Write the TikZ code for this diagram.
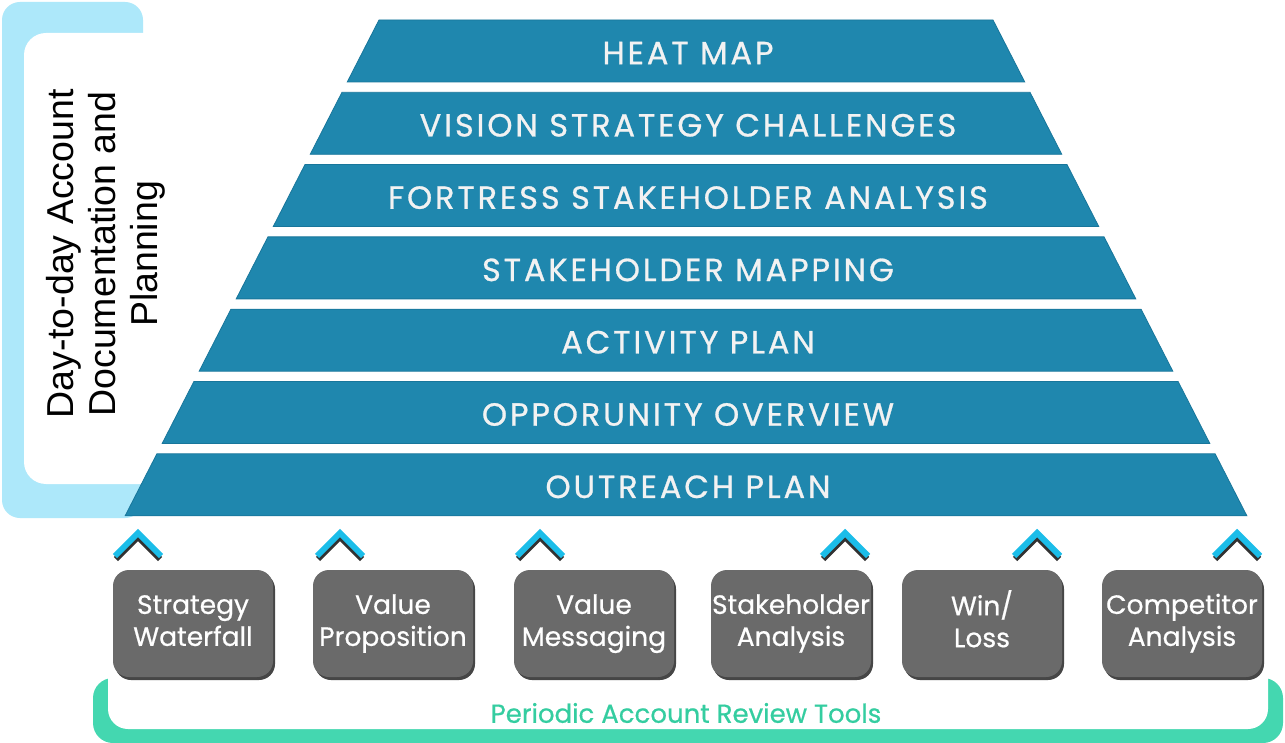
\documentclass[tikz,border=0pt]{standalone}
\usepackage{fontspec}
\setmainfont{Poppins}
\newfontfamily\arialf{Liberation Sans}
\newfontfamily\bandf[LetterSpace=9,FakeBold=0.8]{Poppins}
\newfontfamily\boxf[FakeBold=0.6]{Poppins}
\usetikzlibrary{shadows}
\definecolor{bandblue}{RGB}{31,135,174}
\definecolor{bandedge}{RGB}{24,118,155}
\definecolor{lightbr}{RGB}{173,232,250}
\definecolor{chevcyan}{RGB}{27,189,233}
\definecolor{boxgray}{RGB}{106,106,106}
\definecolor{boxshadow}{RGB}{50,50,50}
\definecolor{greenc}{RGB}{68,215,176}
\definecolor{greentxt}{RGB}{52,205,160}
\definecolor{bandtxt}{RGB}{242,242,242}
\tikzset{
  bandfill/.style={fill=bandblue, draw=bandedge, line width=0.8pt},
  bandtext/.style={text=bandtxt, font=\bandf\fontsize{32}{36}\selectfont, inner sep=0pt},
  graybox/.style={fill=boxgray, rounded corners=16pt, minimum width=160pt, minimum height=107pt,
    text=white, align=center, font=\boxf\fontsize{26.5}{32}\selectfont, inner sep=0pt,
    drop shadow={shadow xshift=2pt, shadow yshift=-3pt, opacity=0.9, fill=boxshadow}},
  chevline/.style={draw=chevcyan, line width=6pt},
  chevshade/.style={draw=boxshadow, line width=6pt},
  daytext/.style={text=black, align=center, font=\arialf\fontsize{37.5}{42}\selectfont, inner sep=0pt},
  greentext/.style={text=greentxt, font=\boxf\fontsize{26}{30}\selectfont, inner sep=0pt}
}
\begin{document}
\begin{tikzpicture}[x=1pt,y=-1pt]
\useasboundingbox (0,0) rectangle (1285,743);
\fill[white] (0,0) rectangle (1285,743);

% left bracket
\fill[lightbr, rounded corners=18pt] (2,2) rectangle (143,518);
\fill[white, rounded corners=22pt] (24,33) rectangle (320,484);
\node[daytext, rotate=90] (daylabel) at (106,254) {Day-to-day Account\\Documentation and\\Planning};

% pyramid
\foreach \i/\t in {0/HEAT MAP,1/VISION STRATEGY CHALLENGES,2/FORTRESS STAKEHOLDER ANALYSIS,3/STAKEHOLDER MAPPING,4/ACTIVITY PLAN,5/OPPORUNITY OVERVIEW,6/OUTREACH PLAN}{
  \pgfmathsetmacro{\yt}{20+72.3*\i}
  \pgfmathsetmacro{\yb}{\yt+62}
  \pgfmathsetmacro{\xlt}{379-(\yt-20)*0.512}
  \pgfmathsetmacro{\xlb}{379-(\yb-20)*0.512}
  \fill[bandfill] (\xlt,\yt) -- ({1372-\xlt},\yt) -- ({1372-\xlb},\yb) -- (\xlb,\yb) -- cycle;
  \node[bandtext] (band\i) at (688,\yt+33) {\t};
}

% green bracket
\fill[greenc, rounded corners=20pt] (93,678) rectangle (1283,743);
\fill[white, rounded corners=20pt] (108,640) rectangle (1268,729);
\node[greentext] (tools) at (686,713) {Periodic Account Review Tools};

% chevrons
\foreach \cx in {138,340,540,845,1037,1237}{
  \draw[chevshade] (\cx-22,559) -- (\cx,537) -- (\cx+22,559);
  \draw[chevline] (\cx-23,556) -- (\cx,533) -- (\cx+23,556);
}

% tool boxes
\node[graybox] (t1) at (193,623.5) {\strut Strategy\\\strut Waterfall};
\node[graybox] (t2) at (393,623.5) {\strut Value\\\strut Proposition};
\node[graybox] (t3) at (594,623.5) {\strut Value\\\strut Messaging};
\node[graybox] (t4) at (791,623.5) {\strut Stakeholder\\\strut Analysis};
\node[graybox] (t5) at (982,623.5) {\strut Win/\\\strut Loss};
\node[graybox] (t6) at (1182,623.5) {\strut Competitor\\\strut Analysis};
\end{tikzpicture}
\end{document}
